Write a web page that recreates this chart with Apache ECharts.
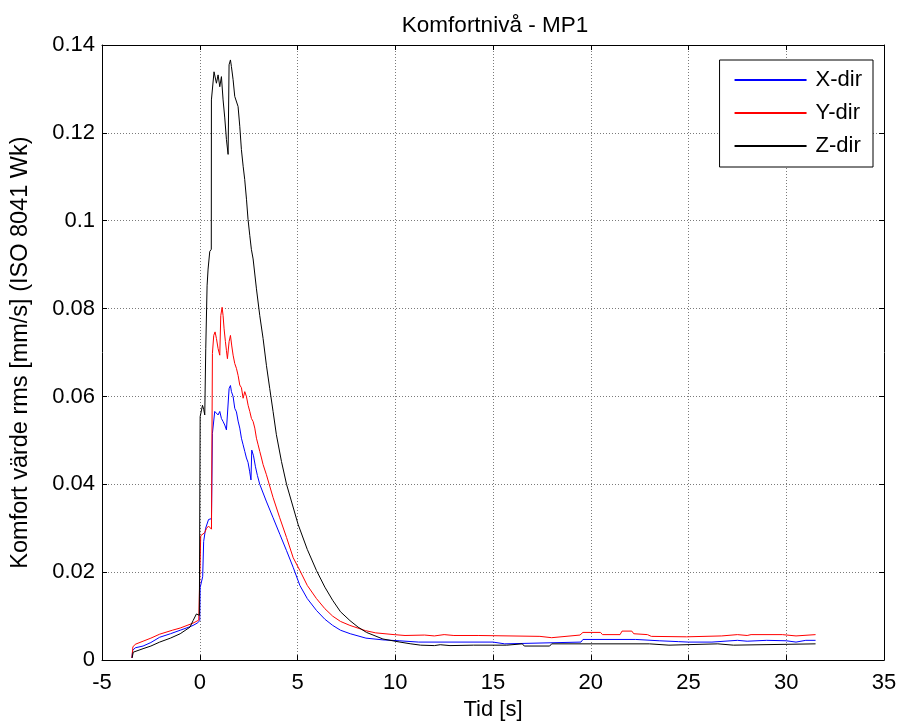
<!DOCTYPE html>
<html>
<head>
<meta charset="utf-8">
<script src="https://cdn.jsdelivr.net/npm/echarts@6/dist/echarts.min.js"></script>
<style>html,body{margin:0;padding:0;background:#fff}#c{width:900px;height:726px}</style>
</head>
<body>
<div id="c"></div>
<script>
// ---- data ----
const titleText = 'Komfortnivå - MP1';
const xAxisName = 'Tid [s]';
const yAxisName = 'Komfort värde rms [mm/s] (ISO 8041 Wk)';
const seriesNames = ['X-dir', 'Y-dir', 'Z-dir'];

const xTime = [-3.47,-3.43,-3.3,-2.9,-2.5,-2.05,-1.5,-1.0,-0.5,-0.34,-0.1,0.0,0.02,0.15,0.2,0.3,0.45,0.6,0.63,
  0.648,0.767,0.853,0.938,1.024,1.109,1.194,1.28,1.365,1.45,1.501,1.57,1.621,1.706,1.791,1.876,1.962,2.047,2.132,2.218,2.303,2.388,
  2.47,2.55,2.62,2.66,2.75,2.85,2.95,3.07,3.4,3.75,4.1,4.44,4.78,5.12,5.5,5.97,6.4,6.8,7.2,7.7,8.5,9.37,10.2,11.2,15.0,15.1,15.6,15.7,
  19.5,19.6,22.3,22.4,23.5,24.5,25.0,26.2,26.3,27.5,28.0,29.0,30.0,30.5,31.0,31.5];
const xVals = [0.0005,0.0022,0.0028,0.0032,0.0040,0.0052,0.0060,0.0068,0.0076,0.0079,0.0085,0.0090,0.0165,0.0190,0.0270,0.0300,0.0320,0.0322,0.0325,
  0.0516,0.0566,0.0569,0.0558,0.0566,0.0550,0.0543,0.0535,0.0524,0.0521,0.0618,0.0625,0.0611,0.0600,0.0573,0.0565,0.0544,0.0528,0.0505,0.0490,0.0475,0.0460,
  0.0450,0.0430,0.0410,0.0478,0.0465,0.0440,0.0420,0.0400,0.0362,0.0324,0.0286,0.0249,0.0211,0.0170,0.0140,0.0113,0.0093,0.0079,0.0068,0.0060,0.0050,0.0046,0.0044,0.0041,0.0041,0.0037,0.0037,0.0041,
  0.0041,0.0047,0.0047,0.0043,0.0044,0.0042,0.0041,0.0041,0.0044,0.0045,0.0043,0.0045,0.0044,0.0041,0.0045,0.0045];

const yTime = [-3.47,-3.42,-3.3,-2.9,-2.5,-2.05,-1.4,-1.0,-0.35,-0.05,0.0,0.05,0.15,0.25,0.35,0.45,0.6,0.63,
  0.648,0.716,0.784,0.853,0.938,1.024,1.075,1.143,1.194,1.245,1.313,1.365,1.416,1.501,1.57,1.638,1.706,1.791,1.876,1.962,2.047,2.132,2.218,2.303,2.388,
  2.474,2.559,2.644,2.73,2.815,2.90,2.986,3.07,3.157,3.24,3.41,3.75,4.09,4.44,4.78,5.12,5.5,5.97,6.4,6.8,7.2,7.68,8.48,9.0,9.94,10.5,11.5,12.0,12.5,13.0,14.24,14.3,
  17.4,17.5,18.0,18.1,19.45,19.6,20.5,20.6,21.5,21.6,22.1,22.2,22.9,23.1,24.9,25.0,26.7,26.8,27.5,27.6,28.0,28.2,29.8,29.9,30.5,30.6,31.5];
const yVals = [0.0005,0.0030,0.0036,0.0043,0.0050,0.0059,0.0068,0.0073,0.0084,0.0091,0.0095,0.0283,0.0285,0.0290,0.0300,0.0305,0.0298,0.0300,
  0.0698,0.0739,0.0747,0.0732,0.0709,0.0694,0.0784,0.0803,0.0784,0.0754,0.0725,0.0705,0.0686,0.0725,0.0739,0.0715,0.0694,0.0675,0.0664,0.0648,0.0626,0.0620,0.0596,0.0611,0.0600,
  0.0580,0.0566,0.0550,0.0543,0.0528,0.0505,0.0490,0.0475,0.0460,0.0445,0.0422,0.0370,0.0324,0.0279,0.0233,0.0204,0.0170,0.0140,0.0117,0.0100,0.0088,0.0079,0.0067,0.0062,0.0058,0.0056,0.0057,0.0055,0.0058,0.0056,0.0056,0.0054,
  0.0054,0.0050,0.0051,0.0055,0.0057,0.0063,0.0063,0.0058,0.0058,0.0066,0.0066,0.0060,0.0058,0.0054,0.0053,0.0055,0.0055,0.0058,0.0058,0.0055,0.0056,0.0058,0.0058,0.0055,0.0055,0.0059,0.0058];

const zTime = [-3.46,-3.4,-3.3,-2.9,-2.5,-2.05,-1.5,-1.0,-0.5,-0.34,-0.17,-0.02,0.02,0.14,0.205,0.256,0.307,0.375,0.426,0.512,0.59,
  0.597,0.73,0.768,0.853,0.938,1.024,1.109,1.194,1.28,1.365,1.45,1.5,1.57,1.62,1.706,1.79,1.876,1.96,2.047,2.13,2.22,2.30,2.39,2.47,2.56,2.64,
  2.73,2.9,3.07,3.24,3.41,3.58,3.75,3.92,4.18,4.44,5.03,5.5,5.97,6.4,6.8,7.2,7.68,8.1,8.53,9.37,10.24,10.8,11.3,12.0,12.3,12.8,14.0,15.7,15.8,16.5,16.6,
  17.9,18.0,23.0,23.1,24.0,24.1,26.5,26.6,27.3,27.4,31.5];
const zVals = [0.0005,0.0018,0.0022,0.0026,0.0032,0.0041,0.0050,0.0060,0.0075,0.0090,0.0105,0.0102,0.0554,0.0580,0.0570,0.0558,0.0709,0.0852,0.0890,0.0930,0.0935,
  0.1275,0.1339,0.1336,0.1313,0.1332,0.1305,0.1328,0.1275,0.1234,0.1185,0.1151,0.1355,0.1366,0.1351,0.1321,0.1283,0.1279,0.1260,0.1215,0.1162,0.1124,0.1094,0.1049,0.1003,0.0966,0.0935,
  0.0913,0.0845,0.0784,0.0732,0.0671,0.0618,0.0566,0.0513,0.0452,0.0400,0.0309,0.0252,0.0204,0.0166,0.0136,0.0110,0.0090,0.0075,0.0063,0.0048,0.0041,0.0037,0.0034,0.0033,0.0035,0.0033,0.0034,0.0034,0.0037,0.0037,0.0032,
  0.0032,0.0037,0.0037,0.0034,0.0034,0.0037,0.0037,0.0034,0.0034,0.0037,0.0037];

const xTicks = [-5, 35, 5];      // min, max, interval
const yTicks = [0, 0.14, 0.02];

// ---- chart ----
function pairs(t, v) { return t.map((x, i) => [x, v[i]]); }
const chart = echarts.init(document.getElementById('c'), null, {renderer: 'canvas'});
const font = 'Liberation Sans, Arial, sans-serif';
const FS = 22;
const tickCommon = {show: true, inside: true, length: 5, lineStyle: {color: '#000', width: 1}};
const lineCommon = {show: true, onZero: false, lineStyle: {color: '#000', width: 1}};
const gridLine = {show: true, lineStyle: {color: '#7a7a7a', type: [1, 2], width: 1}};
const colors = ['#0000ff', '#ff0000', '#000000'];
const data = [pairs(xTime, xVals), pairs(yTime, yVals), pairs(zTime, zVals)];

chart.setOption({
  animation: false,
  backgroundColor: '#fff',
  title: {text: titleText, left: 490, textAlign: 'center', top: 9,
    textStyle: {fontFamily: font, fontSize: 22.5, fontWeight: 'normal', color: '#000'}},
  grid: {left: 102, right: 16, top: 45, bottom: 63, containLabel: false},
  legend: {
    orient: 'vertical', right: 27, top: 60,
    data: seriesNames,
    itemWidth: 72, itemHeight: 14, itemGap: 11,
    padding: [9, 11, 10, 14],
    itemStyle: {opacity: 0},
    backgroundColor: '#fff', borderColor: '#000', borderWidth: 1,
    textStyle: {fontFamily: font, fontSize: FS, color: '#000', padding: [0, 0, 0, 4]}
  },
  xAxis: [
    {type: 'value', min: xTicks[0], max: xTicks[1], interval: xTicks[2], position: 'bottom',
     name: xAxisName, nameLocation: 'middle', nameGap: 38,
     nameTextStyle: {fontFamily: font, fontSize: FS, color: '#000'},
     axisLine: lineCommon, axisTick: tickCommon, splitLine: gridLine,
     axisLabel: {fontFamily: font, fontSize: FS, color: '#000', margin: 12}},
    {type: 'value', min: xTicks[0], max: xTicks[1], interval: xTicks[2], position: 'top',
     axisLine: lineCommon, axisTick: tickCommon, splitLine: {show: false}, axisLabel: {show: false}}
  ],
  yAxis: [
    {type: 'value', min: yTicks[0], max: yTicks[1], interval: yTicks[2], position: 'left',
     name: yAxisName, nameLocation: 'middle', nameGap: 69,
     nameTextStyle: {fontFamily: font, fontSize: 23.5, color: '#000'},
     axisLine: lineCommon, axisTick: tickCommon, splitLine: gridLine,
     axisLabel: {fontFamily: font, fontSize: FS, color: '#000', margin: 7,
       formatter: v => String(parseFloat(v.toFixed(2)))}},
    {type: 'value', min: yTicks[0], max: yTicks[1], interval: yTicks[2], position: 'right',
     axisLine: lineCommon, axisTick: tickCommon, splitLine: {show: false}, axisLabel: {show: false}}
  ],
  series: seriesNames.map((n, i) => ({
    name: n, type: 'line', data: data[i], showSymbol: false, symbol: 'none',
    color: colors[i], itemStyle: {color: colors[i]},
    lineStyle: {color: colors[i], width: 1}, z: 2 + i
  }))
});
</script>
</body>
</html>
